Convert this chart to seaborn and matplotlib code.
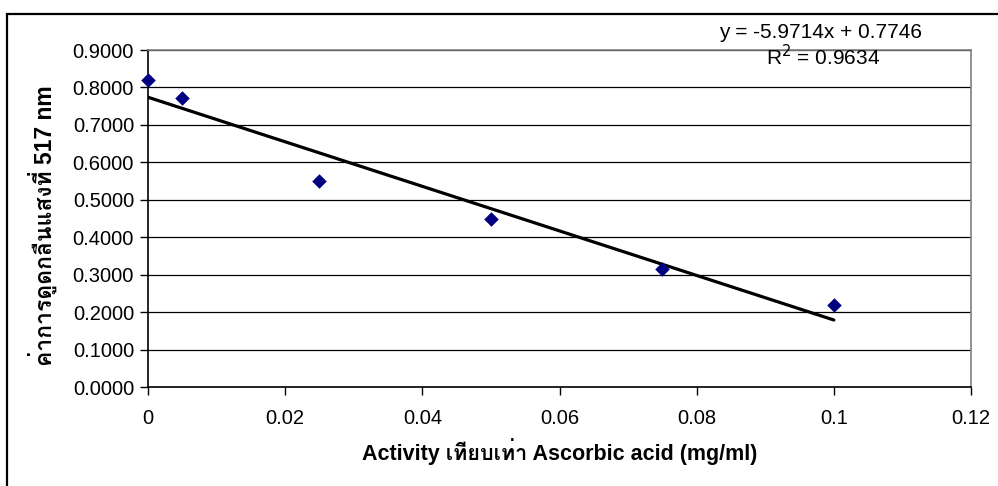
import numpy as np
import pandas as pd
import matplotlib
matplotlib.use("Agg")
import matplotlib.pyplot as plt
import seaborn as sns
from matplotlib import font_manager
from matplotlib.ft2font import FT2Font
from matplotlib.patches import Rectangle

# Data
conc = [0.0, 0.005, 0.025, 0.05, 0.075, 0.1]
absorb = [0.82, 0.772, 0.551, 0.448, 0.316, 0.219]
x_ticks = [0, 0.02, 0.04, 0.06, 0.08, 0.1, 0.12]
y_ticks = [0.0, 0.1, 0.2, 0.3, 0.4, 0.5, 0.6, 0.7, 0.8, 0.9]
eq_text = "y = -5.9714x + 0.7746"
r2_text = "R$^2$ = 0.9634"
x_label = "Activity เทียบเท่า Ascorbic acid (mg/ml)"
y_label = "ค่าการดูดกลืนแสงที่ 517 nm"

df = pd.DataFrame({"conc": conc, "absorb": absorb})

# look for any installed font that can draw Thai
thai = []
for f in font_manager.fontManager.ttflist:
    try:
        if ord("ก") in FT2Font(f.fname).get_charmap() and f.name not in thai:
            thai.append(f.name)
    except Exception:
        pass

sns.set_theme(style="white")
fams = ["Liberation Sans"] + thai[:1] + ["DejaVu Sans"]
plt.rcParams["font.family"] = fams
for key in ["text.color", "axes.labelcolor", "xtick.color", "ytick.color"]:
    plt.rcParams[key] = "black"

fig = plt.figure(figsize=(9.98, 4.86), dpi=100)
ax = fig.add_axes([148 / 998, 1 - 387 / 486, (971 - 148) / 998, (387 - 50) / 486])

sns.regplot(data=df, x="conc", y="absorb", scatter=False, ci=None, ax=ax,
            color="black", line_kws={"linewidth": 2.3})
sns.scatterplot(data=df, x="conc", y="absorb", marker="D", s=55, color="#000080",
                edgecolor="#000080", linewidth=0, ax=ax, zorder=5, clip_on=False)

ax.set_xlim(0, 0.12)
ax.set_ylim(0, 0.9)
ax.set_xticks(x_ticks)
ax.set_xticklabels([f"{v:g}" for v in x_ticks], fontsize=14.5)
ax.set_yticks(y_ticks)
ax.set_yticklabels([f"{v:.4f}" for v in y_ticks], fontsize=14.5)
ax.yaxis.grid(True, color="black", linewidth=0.9)
ax.xaxis.grid(False)
ax.tick_params(axis="both", direction="out", length=6, width=1, color="black",
               bottom=True, left=True, pad=4)
ax.tick_params(axis="x", pad=10)
for side in ["left", "bottom"]:
    ax.spines[side].set_color("black")
    ax.spines[side].set_linewidth(1.2)
for side in ["top", "right"]:
    ax.spines[side].set_color("#808080")
    ax.spines[side].set_linewidth(1.2)

ax.set_xlabel(x_label, fontsize=15.5, fontweight="bold", labelpad=7)
ax.set_ylabel(y_label, fontsize=16.5, fontweight="bold")
ax.yaxis.set_label_coords((57 - 148) / 823, (387 - 226) / 337)

fig.text(821 / 998, 1 - 33 / 486, eq_text, ha="center", va="center", fontsize=15)
fig.text(823 / 998, 1 - 57 / 486, r2_text, ha="center", va="center", fontsize=15)

# outer chart frame
fig.patches.append(Rectangle((7 / 998, -0.2), 1.2, 1.2 - 14 / 486,
                             transform=fig.transFigure, fill=False,
                             edgecolor="black", linewidth=1.6))

fig.savefig("out.png", dpi=100)
